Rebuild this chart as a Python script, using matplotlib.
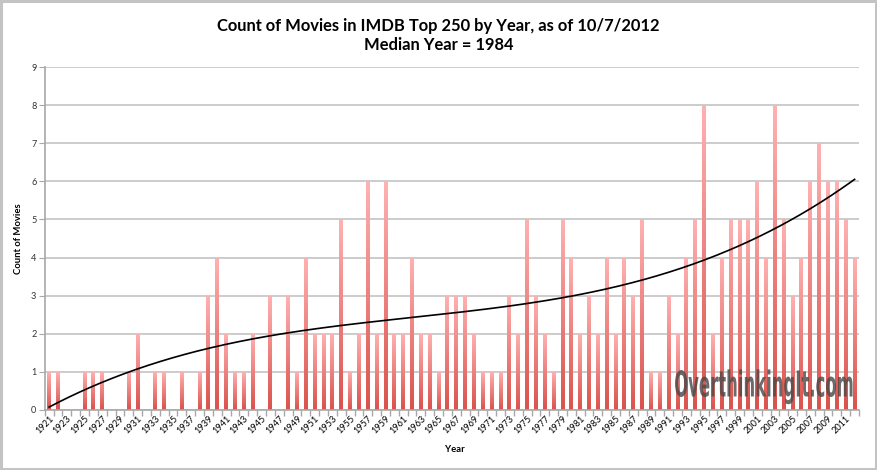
import numpy as np
import matplotlib
matplotlib.use("Agg")
import matplotlib.pyplot as plt
from matplotlib.patches import Rectangle, PathPatch
from matplotlib.textpath import TextPath
from matplotlib.font_manager import FontProperties
from matplotlib.colors import LinearSegmentedColormap
import matplotlib.transforms as mtransforms

years = list(range(1921, 2013))
counts_by_year = {
    1921: 1, 1922: 1, 1925: 1, 1926: 1, 1927: 1, 1930: 1, 1931: 2, 1933: 1,
    1934: 1, 1936: 1, 1938: 1, 1939: 3, 1940: 4, 1941: 2, 1942: 1, 1943: 1,
    1944: 2, 1946: 3, 1948: 3, 1949: 1, 1950: 4, 1951: 2, 1952: 2, 1953: 2,
    1954: 5, 1955: 1, 1956: 2, 1957: 6, 1958: 2, 1959: 6, 1960: 2, 1961: 2,
    1962: 4, 1963: 2, 1964: 2, 1965: 1, 1966: 3, 1967: 3, 1968: 3, 1969: 2,
    1970: 1, 1971: 1, 1972: 1, 1973: 3, 1974: 2, 1975: 5, 1976: 3, 1977: 2,
    1978: 1, 1979: 5, 1980: 4, 1981: 2, 1982: 3, 1983: 2, 1984: 4, 1985: 2,
    1986: 4, 1987: 3, 1988: 5, 1989: 1, 1990: 1, 1991: 3, 1992: 2, 1993: 4,
    1994: 5, 1995: 8, 1996: 2, 1997: 4, 1998: 5, 1999: 5, 2000: 5, 2001: 6,
    2002: 4, 2003: 8, 2004: 5, 2005: 3, 2006: 4, 2007: 6, 2008: 7, 2009: 6,
    2010: 6, 2011: 5, 2012: 4,
}
counts = [counts_by_year.get(y, 0) for y in years]
tick_labels = [str(y) for y in years[::2]]

title = "Count of Movies in IMDB Top 250 by Year, as of 10/7/2012\nMedian Year = 1984"

FONT = ["Lato", "DejaVu Sans"]

fig = plt.figure(figsize=(8.77, 4.70), dpi=100)
fig.patch.set_facecolor("white")
# outer chart border
fig.add_artist(Rectangle((0.0015, 0.002), 0.997, 0.995, transform=fig.transFigure,
                         fill=False, edgecolor="#c4c4c4", linewidth=2.2))

ax = fig.add_axes([0.051, 0.1283, 0.9285, 0.7285])
n = len(years)
xs = np.arange(n)
ax.set_xlim(-0.5, n - 0.5)
ax.set_ylim(0, 9)

# gridlines
ax.set_yticks(range(0, 10))
ax.yaxis.grid(True, color="#c4c4c4", linewidth=1.2)
ax.set_axisbelow(True)

cmap = LinearSegmentedColormap.from_list("barg", ["#da524c", "#ffb2b2"])
grad = np.linspace(0, 1, 256).reshape(-1, 1)
bw = 0.45
for x, c in zip(xs, counts):
    if c <= 0:
        continue
    rect = Rectangle((x - bw / 2, 0), bw, c, facecolor="none", edgecolor="none")
    ax.add_patch(rect)
    im = ax.imshow(grad, cmap=cmap, aspect="auto", origin="lower",
                   extent=(x - bw / 2, x + bw / 2, 0, c), zorder=2,
                   interpolation="bilinear")
    im.set_clip_path(rect)

# polynomial trendline (order 3) fitted to the counts
coef = np.polyfit(xs + 1, counts, 3)
xf = np.linspace(0, n - 1, 400)
ax.plot(xf, np.polyval(coef, xf + 1), color="black", linewidth=1.2, zorder=4)
ax.set_xlim(-0.5, n - 0.5)
ax.set_ylim(0, 9)

# axes styling
for s in ["top", "right"]:
    ax.spines[s].set_visible(False)
ax.spines["left"].set_color("#a8a8a8")
ax.spines["bottom"].set_color("#a8a8a8")
ax.spines["left"].set_linewidth(1.2)
ax.spines["bottom"].set_linewidth(1.2)

ax.set_xticks(np.arange(-0.5, n, 1.0), minor=False)
ax.set_xticklabels([])
ax.tick_params(axis="x", which="major", length=4, color="#a8a8a8", width=1)
ax.set_xticks(xs[::2], minor=True)
ax.set_xticklabels(tick_labels, minor=True, rotation=45, ha="right",
                   rotation_mode="anchor", fontsize=6.6, family=FONT)
ax.tick_params(axis="x", which="minor", length=0, pad=3)
ax.tick_params(axis="y", length=4, color="#a8a8a8", labelsize=6.6, pad=2)
for lab in ax.get_yticklabels():
    lab.set_family(FONT)
    lab.set_color("#333333")

ax.set_ylabel("Count of Movies", fontsize=6.8, fontweight="bold", family=FONT, labelpad=8)
ax.yaxis.set_label_coords(-0.027, 0.5)
fig.text(0.519, 0.044, "Year", fontsize=6.8, fontweight="bold", family=FONT,
         ha="center", va="center")

fig.text(0.5, 0.925, title, fontsize=11.9, fontweight="bold", family=FONT,
         ha="center", va="center", linespacing=1.2)

# watermark, compressed horizontally
tp = TextPath((0, 0), "OverthinkingIt.com", size=1,
              prop=FontProperties(family="DejaVu Sans", weight="bold"))
bb = tp.get_extents()
x0_px, x1_px = 675, 852.5
top_px, base_px = 370, 396.5
cap_h = TextPath((0, 0), "O", size=1,
                 prop=FontProperties(family="DejaVu Sans", weight="bold")).get_extents().y1
sx = (x1_px - x0_px) / bb.width
sy = (base_px - top_px) / cap_h
H = 470
tr = (mtransforms.Affine2D().translate(-bb.x0, 0).scale(sx, sy)
      .translate(x0_px, H - base_px))
patch = PathPatch(tp, transform=tr, facecolor="#4a4a4a", edgecolor="none",
                  alpha=0.82, zorder=10)
fig.add_artist(patch)

fig.savefig("out.png", dpi=100, facecolor="white")
